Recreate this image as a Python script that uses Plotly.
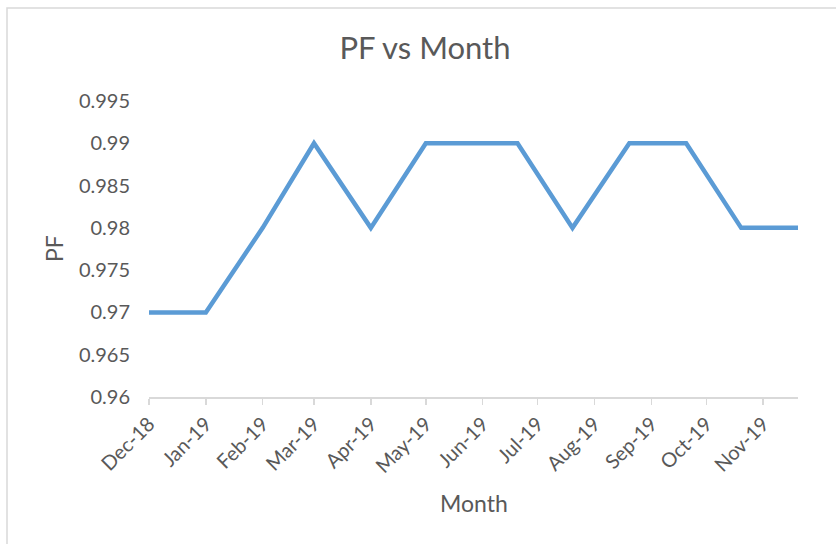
import plotly.graph_objects as go

# Data
dates = ["2018-12-01", "2019-01-01", "2019-02-01", "2019-03-01", "2019-04-01", "2019-05-01",
         "2019-06-20", "2019-07-20", "2019-08-20", "2019-09-20", "2019-10-20", "2019-11-20"]
pf = [0.97, 0.97, 0.98, 0.99, 0.98, 0.99, 0.99, 0.98, 0.99, 0.99, 0.98, 0.98]
tick_dates = ["2018-12-01", "2019-01-01", "2019-02-01", "2019-03-01", "2019-04-01", "2019-05-01",
              "2019-06-01", "2019-07-01", "2019-08-01", "2019-09-01", "2019-10-01", "2019-11-01"]
tick_labels = ["Dec-18", "Jan-19", "Feb-19", "Mar-19", "Apr-19", "May-19",
               "Jun-19", "Jul-19", "Aug-19", "Sep-19", "Oct-19", "Nov-19"]
y_ticks = [0.96, 0.965, 0.97, 0.975, 0.98, 0.985, 0.99, 0.995]
y_labels = ["0.96", "0.965", "0.97", "0.975", "0.98", "0.985", "0.99", "0.995"]

W, H = 836, 544
ml, mr, mt, mb = 149, 38, 101, 147
pw, ph = W - ml - mr, H - mt - mb

FONT = "Lato"
TXT = "#595959"

fig = go.Figure()
fig.add_trace(go.Scatter(x=dates, y=pf, mode="lines",
                         line=dict(color="#5b9bd5", width=4.5), hoverinfo="skip"))

def px2x(p):
    return (p - ml) / pw

def px2y(p):
    return (H - mb - p) / ph

fig.update_layout(
    width=W, height=H,
    margin=dict(l=ml, r=mr, t=mt, b=mb, autoexpand=False),
    paper_bgcolor="white", plot_bgcolor="white",
    showlegend=False,
    font=dict(family=FONT, color=TXT),
    title=dict(text="PF vs Month", x=425 / W, xanchor="center", y=1 - 48 / H, yanchor="middle",
               xref="container", yref="container",
               font=dict(family=FONT, size=31, color=TXT)),
    xaxis=dict(type="date", range=[dates[0], dates[-1]], tickvals=tick_dates, ticktext=tick_labels,
               tickangle=-45, tickfont=dict(size=20, color=TXT),
               showgrid=False, zeroline=False, showline=True, linecolor="#d9d9d9", linewidth=1.5,
               ticks="outside", ticklen=6, tickcolor="#d9d9d9", tickwidth=1.5),
    yaxis=dict(range=[0.96, 0.995], tickvals=y_ticks, ticktext=y_labels,
               tickfont=dict(size=20, color=TXT), showgrid=False, zeroline=False, showline=False,
               ticks="outside", ticklen=14, tickcolor="rgba(0,0,0,0)"),
    annotations=[
        dict(text="Month", xref="paper", yref="paper", x=px2x(474), y=px2y(503),
             xanchor="center", yanchor="middle", showarrow=False,
             font=dict(family=FONT, size=23, color=TXT)),
        dict(text="PF", xref="paper", yref="paper", x=px2x(54), y=px2y(249),
             xanchor="center", yanchor="middle", showarrow=False, textangle=-90,
             font=dict(family=FONT, size=23, color=TXT)),
    ],
    shapes=[dict(type="rect", xref="paper", yref="paper",
                 x0=px2x(7), x1=px2x(W + 10), y0=px2y(H + 10), y1=px2y(8),
                 line=dict(color="#d9d9d9", width=1.5), fillcolor="rgba(0,0,0,0)", layer="below")],
)

fig.write_html("out.html", config={"displayModeBar": False, "staticPlot": True},
               post_script="document.body.style.margin='0';")
